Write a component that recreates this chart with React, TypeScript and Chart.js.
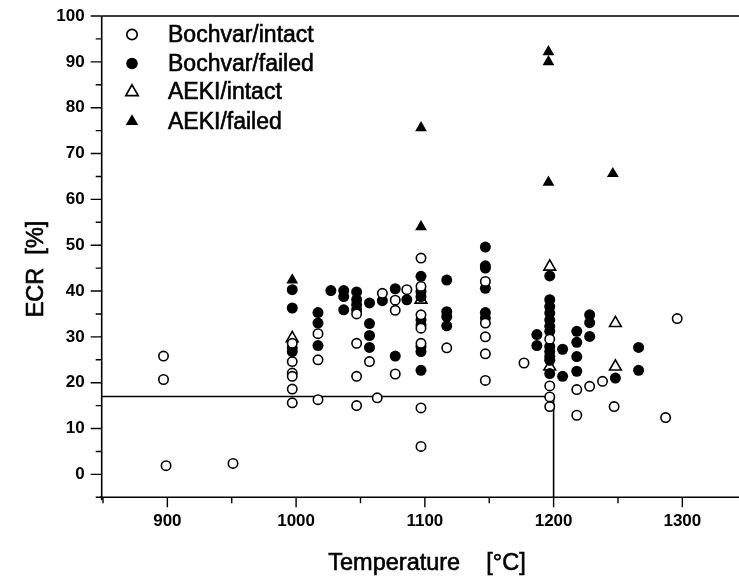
import React, { useEffect, useRef } from "react";
import { Chart, registerables } from "chart.js";

Chart.register(...registerables);

// ---- data ----
const seriesNames = ["Bochvar/intact", "Bochvar/failed", "AEKI/intact", "AEKI/failed"];

const bochvarIntactTemp = [
  897, 897, 899, 951,
  997, 997, 997, 997, 997, 997,
  1017, 1017, 1017,
  1047, 1047, 1047, 1047,
  1057, 1063, 1067,
  1077, 1077, 1077,
  1086,
  1097, 1097, 1097, 1097, 1097, 1097, 1097,
  1117,
  1147, 1147, 1147, 1147, 1147,
  1177,
  1197, 1197, 1197, 1197,
  1218, 1218, 1228, 1238, 1247, 1287, 1296,
];
const bochvarIntactEcr = [
  25.8, 20.7, 1.9, 2.4,
  28.6, 24.6, 22.1, 21.4, 18.6, 15.6,
  30.7, 25.0, 16.3,
  35.0, 28.6, 21.4, 15.0,
  24.6, 16.7, 39.5,
  38.0, 35.8, 21.9,
  40.3,
  47.2, 41.0, 34.8, 31.9, 28.6, 14.5, 6.1,
  27.6,
  42.1, 33.0, 30.0, 26.3, 20.5,
  24.3,
  29.5, 19.3, 16.9, 14.8,
  18.5, 12.9, 19.2, 20.3, 14.8, 12.4, 34.0,
];

const bochvarFailedTemp = [
  997, 997, 997, 997,
  1017, 1017, 1017,
  1027,
  1037, 1037, 1037,
  1047, 1047, 1047, 1047,
  1057, 1057, 1057, 1057,
  1067,
  1077, 1077,
  1086,
  1097, 1097, 1097, 1097, 1097, 1097, 1097, 1097,
  1117, 1117, 1117, 1117,
  1147, 1147, 1147, 1147, 1147, 1147,
  1187, 1187,
  1197, 1197, 1197, 1197, 1197, 1197, 1197, 1197, 1197, 1197, 1197, 1197,
  1207, 1207,
  1218, 1218, 1218, 1218,
  1228, 1228, 1228,
  1248,
  1266, 1266,
];
const bochvarFailedEcr = [
  40.3, 36.3, 27.6, 26.8,
  35.3, 33.0, 28.1,
  40.1,
  40.1, 38.8, 35.9,
  39.8, 38.1, 37.0, 35.9,
  37.4, 32.9, 30.3, 27.7,
  37.9,
  40.5, 25.8,
  38.1,
  43.2, 39.9, 38.8, 33.7, 32.6, 27.9, 26.8, 22.7,
  42.4, 35.5, 34.4, 32.4,
  49.6, 45.5, 45.0, 40.6, 35.3, 34.1,
  30.5, 28.1,
  43.3, 38.1, 36.6, 35.2, 33.7, 32.3, 31.2, 27.9, 26.8, 25.7, 24.9, 22.0,
  27.3, 21.4,
  31.2, 28.8, 25.7, 22.5,
  34.8, 33.1, 30.1,
  21.0,
  27.7, 22.7,
];

const aekiIntactTemp = [997, 1097, 1197, 1197, 1248, 1248];
const aekiIntactEcr = [29.7, 38.1, 45.3, 23.5, 33.0, 23.5];

const aekiFailedTemp = [997, 1097, 1097, 1196, 1196, 1196, 1246];
const aekiFailedEcr = [42.4, 75.6, 54.0, 92.2, 90.0, 63.7, 65.6];

// ECR 17 % / 1200 °C limit lines
const limitEcr = 17;
const limitTemp = 1200;

// axes
const xMin = 849;
const xMax = 1344;
const yMin = -5;
const yMax = 100;
const xTicks = [900, 1000, 1100, 1200, 1300];
const xMinorTicks = [850, 950, 1050, 1150, 1250];
const yTicks = [0, 10, 20, 30, 40, 50, 60, 70, 80, 90, 100];
const yMinorTicks = [-5, 5, 15, 25, 35, 45, 55, 65, 75, 85, 95];
const xTitle = "Temperature    [°C]";
const yTitle = "ECR  [%]";

const FONT = "'Liberation Sans', Arial, Helvetica, sans-serif";

const toPoints = (t: number[], e: number[]) => t.map((x, i) => ({ x, y: e[i] }));

type MarkerKind = "openCircle" | "circle" | "openTriangle" | "triangle";
const markerKinds: MarkerKind[] = ["openCircle", "circle", "openTriangle", "triangle"];

function drawMarker(ctx: CanvasRenderingContext2D, kind: MarkerKind, x: number, y: number) {
  ctx.save();
  ctx.beginPath();
  if (kind === "openCircle" || kind === "circle") {
    const r = kind === "circle" ? 5.8 : 5.2;
    ctx.arc(x, y, r, 0, Math.PI * 2);
  } else {
    const r = 7.2;
    let rad = 0;
    ctx.moveTo(x + Math.sin(rad) * r, y - Math.cos(rad) * r);
    rad += (2 * Math.PI) / 3;
    ctx.lineTo(x + Math.sin(rad) * r, y - Math.cos(rad) * r);
    rad += (2 * Math.PI) / 3;
    ctx.lineTo(x + Math.sin(rad) * r, y - Math.cos(rad) * r);
    ctx.closePath();
  }
  if (kind === "circle" || kind === "triangle") {
    ctx.fillStyle = "#000";
    ctx.fill();
  } else {
    ctx.fillStyle = "#fff";
    ctx.fill();
    ctx.lineWidth = 1.7;
    ctx.strokeStyle = "#000";
    ctx.stroke();
  }
  ctx.restore();
}

function heavyText(ctx: CanvasRenderingContext2D, text: string, x: number, y: number) {
  ctx.fillText(text, x, y);
  ctx.lineWidth = 0.6;
  ctx.strokeStyle = "#000";
  ctx.strokeText(text, x, y);
}

const decorPlugin = {
  id: "decor",
  afterDraw(chart: any) {
    const { ctx, chartArea } = chart;
    const xs = chart.scales.x;
    const ys = chart.scales.y;
    const { left, right, top, bottom } = chartArea;
    ctx.save();
    ctx.strokeStyle = "#000";
    ctx.lineCap = "butt";
    // frame
    ctx.lineWidth = 1.6;
    ctx.beginPath();
    ctx.moveTo(left, top);
    ctx.lineTo(right + 2, top);
    ctx.moveTo(left, top);
    ctx.lineTo(left, bottom + 3);
    ctx.moveTo(left - 2, bottom);
    ctx.lineTo(right + 2, bottom);
    ctx.stroke();
    // ticks
    ctx.lineWidth = 1.4;
    ctx.beginPath();
    yTicks.forEach((v) => {
      const p = ys.getPixelForValue(v);
      ctx.moveTo(left - 11, p);
      ctx.lineTo(left, p);
    });
    yMinorTicks.forEach((v) => {
      const p = ys.getPixelForValue(v);
      ctx.moveTo(left - 6, p);
      ctx.lineTo(left, p);
    });
    xTicks.forEach((v) => {
      const p = xs.getPixelForValue(v);
      ctx.moveTo(p, bottom);
      ctx.lineTo(p, bottom + 10);
    });
    xMinorTicks.forEach((v) => {
      const p = xs.getPixelForValue(v);
      ctx.moveTo(p, bottom);
      ctx.lineTo(p, bottom + 6);
    });
    ctx.stroke();

    // axis titles
    ctx.fillStyle = "#000";
    ctx.font = `23.5px ${FONT}`;
    ctx.textAlign = "center";
    ctx.textBaseline = "alphabetic";
    heavyText(ctx, xTitle, 427, 570);
    ctx.save();
    ctx.translate(43, 269);
    ctx.rotate(-Math.PI / 2);
    heavyText(ctx, yTitle, 0, 0);
    ctx.restore();

    // legend
    const rows = [34.5, 63.5, 92, 121.5];
    ctx.font = `23px ${FONT}`;
    ctx.textAlign = "left";
    ctx.textBaseline = "middle";
    seriesNames.forEach((name, i) => {
      drawMarker(ctx, markerKinds[i], 132, rows[i]);
      ctx.fillStyle = "#000";
      heavyText(ctx, name, 168, rows[i] + 1);
    });
    ctx.restore();
  },
};

export default function App() {
  const ref = useRef<HTMLCanvasElement | null>(null);

  useEffect(() => {
    if (!ref.current) return;
    const common = { showLine: false, borderColor: "#000", borderWidth: 1.6 };
    const chart = new Chart(ref.current, {
      type: "scatter",
      data: {
        datasets: [
          {
            ...common,
            label: seriesNames[0],
            data: toPoints(bochvarIntactTemp, bochvarIntactEcr),
            pointStyle: "circle",
            pointRadius: 4.7,
            pointBackgroundColor: "#fff",
            pointBorderColor: "#000",
            pointBorderWidth: 1.6,
          },
          {
            ...common,
            label: seriesNames[1],
            data: toPoints(bochvarFailedTemp, bochvarFailedEcr),
            pointStyle: "circle",
            pointRadius: 5.5,
            pointBackgroundColor: "#000",
            pointBorderColor: "#000",
            pointBorderWidth: 0,
          },
          {
            ...common,
            label: seriesNames[2],
            data: toPoints(aekiIntactTemp, aekiIntactEcr),
            pointStyle: "triangle",
            pointRadius: 6.8,
            pointBackgroundColor: "#fff",
            pointBorderColor: "#000",
            pointBorderWidth: 1.6,
          },
          {
            ...common,
            label: seriesNames[3],
            data: toPoints(aekiFailedTemp, aekiFailedEcr),
            pointStyle: "triangle",
            pointRadius: 6.8,
            pointBackgroundColor: "#000",
            pointBorderColor: "#000",
            pointBorderWidth: 0,
          },
          {
            label: "limit",
            data: [
              { x: xMin, y: limitEcr },
              { x: limitTemp, y: limitEcr },
              { x: limitTemp, y: yMin },
            ],
            showLine: true,
            borderColor: "#000",
            borderWidth: 1.6,
            pointRadius: 0,
            fill: false,
          } as any,
        ],
      },
      options: {
        animation: false,
        responsive: false,
        devicePixelRatio: 1,
        layout: { autoPadding: false, padding: { left: 0, right: 0, top: 16, bottom: 0 } },
        plugins: {
          legend: { display: false },
          tooltip: { enabled: false },
          title: { display: false },
        },
        scales: {
          x: {
            type: "linear",
            min: xMin,
            max: xMax,
            grid: { display: false, drawTicks: true, tickLength: 10 },
            border: { display: false },
            afterBuildTicks: (s: any) => {
              s.ticks = xTicks.map((v) => ({ value: v }));
            },
            afterFit: (s: any) => {
              s.height = 579 - 497.3;
              s.paddingLeft = 0;
              s.paddingRight = 0;
            },
            ticks: {
              padding: 4,
              color: "#000",
              maxRotation: 0,
              autoSkip: false,
              font: { family: FONT, size: 17, weight: "bold" },
              callback: (v: any) => String(v),
            },
          },
          y: {
            type: "linear",
            min: yMin,
            max: yMax,
            grid: { display: false, drawTicks: true, tickLength: 11 },
            border: { display: false },
            afterBuildTicks: (s: any) => {
              s.ticks = yTicks.map((v) => ({ value: v }));
            },
            afterFit: (s: any) => {
              s.width = 101.7;
              s.paddingTop = 0;
              s.paddingBottom = 0;
            },
            ticks: {
              padding: 6,
              color: "#000",
              autoSkip: false,
              font: { family: FONT, size: 17, weight: "bold" },
              callback: (v: any) => String(v),
            },
          },
        },
      },
      plugins: [decorPlugin],
    });
    return () => chart.destroy();
  }, []);

  return (
    <div style={{ position: "absolute", left: 0, top: 0, width: 739, height: 579, background: "#fff" }}>
      <canvas ref={ref} width={739} height={579} style={{ display: "block", width: 739, height: 579 }} />
    </div>
  );
}
